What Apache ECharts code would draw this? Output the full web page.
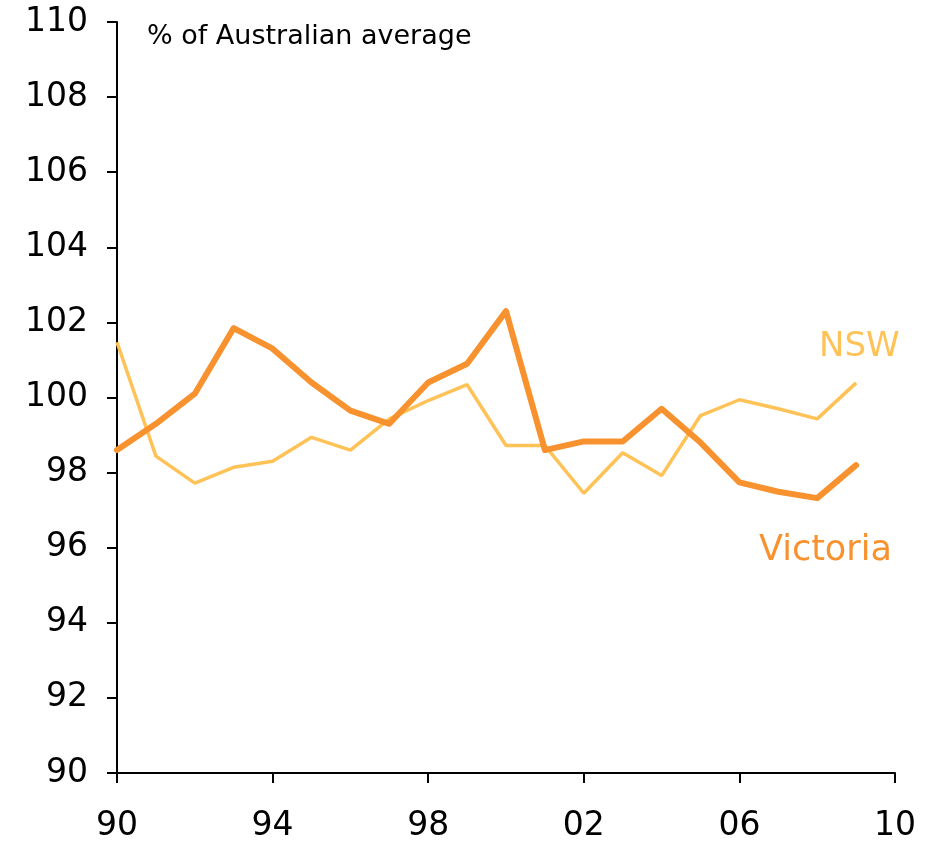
<!DOCTYPE html>
<html lang="en">
<head>
    <meta charset="UTF-8">
    <title>% of Australian average - Victoria and NSW</title>
    <script src="https://cdn.jsdelivr.net/npm/echarts@6.0.0/dist/echarts.min.js"></script>
    <style>
        html, body { margin: 0; padding: 0; background: #fff; }
        #chart { width: 934px; height: 842px; }
    </style>
</head>
<body>
    <div id="chart"></div>
    <script>
        // data
        const years = [1990, 1991, 1992, 1993, 1994, 1995, 1996, 1997, 1998, 1999,
                       2000, 2001, 2002, 2003, 2004, 2005, 2006, 2007, 2008, 2009];
        const victoria = [98.6, 99.3, 100.1, 101.85, 101.3, 100.4, 99.65, 99.3, 100.4, 100.9,
                          102.3, 98.6, 98.83, 98.83, 99.7, 98.8, 97.74, 97.49, 97.32, 98.2];
        const nsw = [101.47, 98.44, 97.72, 98.14, 98.3, 98.94, 98.6, 99.43, 99.92, 100.34,
                     98.72, 98.72, 97.45, 98.53, 97.92, 99.52, 99.94, 99.7, 99.43, 100.39];
        const xTicks = [1990, 1994, 1998, 2002, 2006, 2010];

        const vicColor = '#F7922F';
        const nswColor = '#FFC257';
        const font = 'DejaVu Sans';

        const pair = (vals) => years.map((y, i) => [y, vals[i]]);

        const chart = echarts.init(document.getElementById('chart'));
        chart.setOption({
            animation: false,
            backgroundColor: '#fff',
            grid: { left: 117, right: 39, top: 22, bottom: 69, outerBoundsMode: 'none' },
            xAxis: {
                type: 'value',
                min: 1990,
                max: 2010,
                interval: 4,
                splitLine: { show: false },
                axisLine: { lineStyle: { color: '#000', width: 2 } },
                axisTick: { show: true, length: 10, lineStyle: { color: '#000', width: 2 } },
                axisLabel: {
                    color: '#000',
                    fontFamily: font,
                    fontSize: 33,
                    margin: 37,
                    formatter: (v) => xTicks.includes(v) ? String(v).slice(2) : ''
                }
            },
            yAxis: {
                type: 'value',
                min: 90,
                max: 110,
                interval: 2,
                splitLine: { show: false },
                axisLine: { show: true, lineStyle: { color: '#000', width: 2 } },
                axisTick: { show: true, length: 10, lineStyle: { color: '#000', width: 2 } },
                axisLabel: {
                    color: '#000',
                    fontFamily: font,
                    fontSize: 33,
                    margin: 29
                }
            },
            title: {
                text: '% of Australian average',
                left: 142,
                top: 18,
                textStyle: { color: '#000', fontFamily: font, fontSize: 27, fontWeight: 'normal' }
            },
            graphic: [
                {
                    type: 'text', left: 819, top: 330,
                    style: { text: 'NSW', fill: nswColor, font: '34px "DejaVu Sans"' }
                },
                {
                    type: 'text', left: 759, top: 533,
                    style: { text: 'Victoria', fill: vicColor, font: '35px "DejaVu Sans"' }
                }
            ],
            series: [
                {
                    name: 'NSW',
                    type: 'line',
                    data: pair(nsw),
                    symbol: 'none',
                    lineStyle: { color: nswColor, width: 3.5 },
                    z: 2
                },
                {
                    name: 'Victoria',
                    type: 'line',
                    data: pair(victoria),
                    symbol: 'none',
                    lineStyle: { color: vicColor, width: 6, cap: 'round', join: 'round' },
                    z: 3
                }
            ]
        });
    </script>
</body>
</html>
